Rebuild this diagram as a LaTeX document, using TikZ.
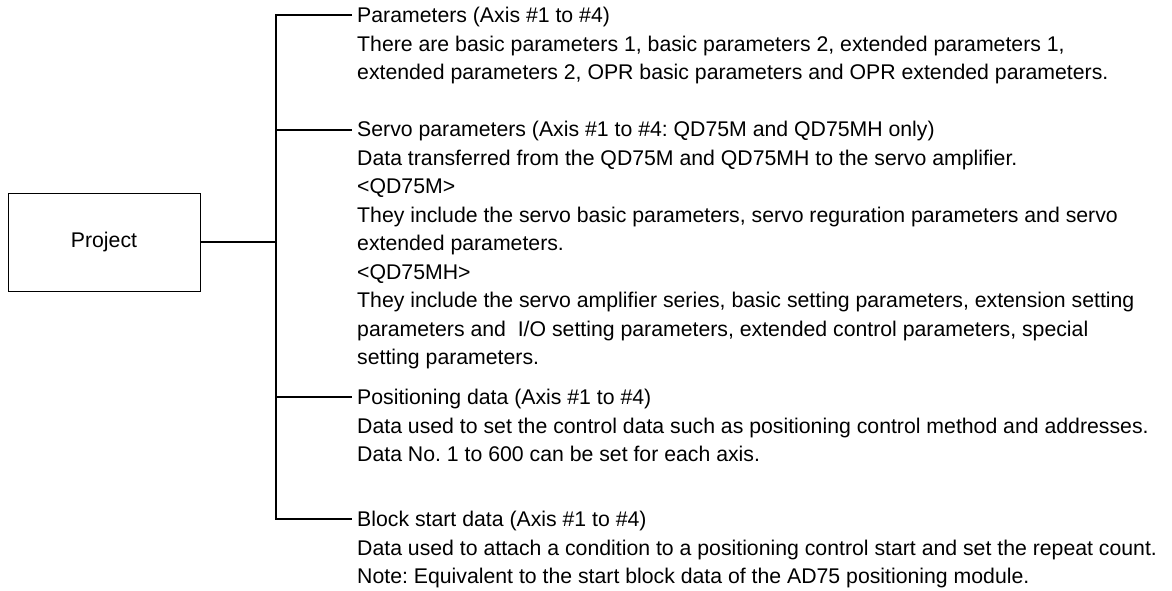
\documentclass[tikz,border=0pt]{standalone}
\usepackage{fontspec}
\setmainfont{Liberation Sans}
\frenchspacing
\tikzset{
  x=1pt, y=-1pt,
  boxnode/.style={draw, line width=1pt, minimum width=192pt, minimum height=98pt, inner sep=0pt},
  titlenode/.style={anchor=west, inner xsep=5pt, inner ysep=0pt, text height=15.2pt, text depth=0pt},
  descnode/.style={anchor=base west, inner sep=0pt},
  conn/.style={line width=1.2pt},
}
\newcommand\fnt{\fontsize{21.25}{28.5}\selectfont\frenchspacing}
\newcommand\desclines[1]{\begin{tabular}[t]{@{}l@{}}#1\end{tabular}}
\begin{document}
\begin{tikzpicture}[font=\fnt]
\useasboundingbox (0,0) rectangle (1172,591);
\node[boxnode] (proj) at (104,242) {Project};
\coordinate (jm) at (276,242);
\coordinate (j1) at (276,15);
\coordinate (j2) at (276,130);
\coordinate (j3) at (276,397);
\coordinate (j4) at (276,519);

\node[titlenode] (t1) at (352,15) {Parameters (Axis \#1 to \#4)};
\node[descnode] (d1) at ([shift={(5,28.5)}]t1.base west) {\desclines{%
There are basic parameters 1, basic parameters 2, extended parameters 1,\\
extended parameters 2, OPR basic parameters and OPR extended parameters.}};

\node[titlenode] (t2) at (352,129) {Servo parameters (Axis \#1 to \#4: QD75M and QD75MH only)};
\node[descnode] (d2) at ([shift={(5,28.5)}]t2.base west) {\desclines{%
Data transferred from the QD75M and QD75MH to the servo amplifier.\\
<QD75M>\\
They include the servo basic parameters, servo reguration parameters and servo\\
extended parameters.\\
<QD75MH>\\
They include the servo amplifier series, basic setting parameters, extension setting\\
parameters and \ I/O setting parameters, extended control parameters, special\\
setting parameters.}};

\node[titlenode] (t3) at (352,397) {Positioning data (Axis \#1 to \#4)};
\node[descnode] (d3) at ([shift={(5,28.5)}]t3.base west) {\desclines{%
Data used to set the control data such as positioning control method and addresses.\\
Data No. 1 to 600 can be set for each axis.}};

\node[titlenode] (t4) at (352,519) {Block start data (Axis \#1 to \#4)};
\node[descnode] (d4) at ([shift={(5,28.5)}]t4.base west) {\desclines{%
Data used to attach a condition to a positioning control start and set the repeat count.\\
Note: Equivalent to the start block data of the AD75 positioning module.}};

\draw[conn] (proj.east) -- (jm);
\draw[conn] (t1.west) -- (j1) -- (j4) -- (t4.west);
\draw[conn] (j2) -- (t2.west |- j2);
\draw[conn] (j3) -- (t3.west |- j3);
\end{tikzpicture}
\end{document}
